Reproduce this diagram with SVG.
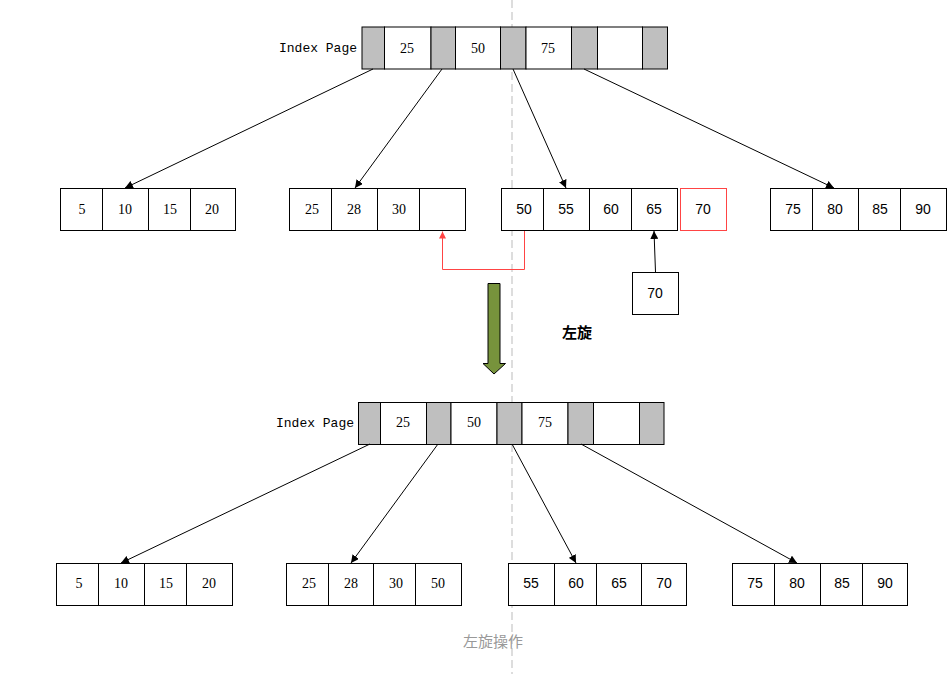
<svg xmlns="http://www.w3.org/2000/svg" width="950" height="674" viewBox="0 0 950 674">
<defs>
<style>
.c{fill:#fff;stroke:#000;stroke-width:1}
.g{fill:#bfbfbf;stroke:#000;stroke-width:1}
.s{font-family:"Liberation Serif","Noto Sans CJK SC",serif;font-size:14px;text-anchor:middle;fill:#000}
.a{font-family:"Liberation Sans",Arial,sans-serif;font-size:14px;text-anchor:middle;fill:#000}
.lbl{font-family:"Liberation Mono",monospace;font-size:13px;fill:#000;text-anchor:end}
.e{stroke:#000;stroke-width:1;fill:none;marker-end:url(#ah)}
</style>
<marker id="ah" viewBox="0 0 10 10" refX="10" refY="5" markerWidth="8" markerHeight="8" markerUnits="userSpaceOnUse" orient="auto"><path d="M0,0 L10,5 L0,10 z" fill="#000"/></marker>
<marker id="ahr" viewBox="0 0 10 10" refX="10" refY="5" markerWidth="7" markerHeight="7" markerUnits="userSpaceOnUse" orient="auto"><path d="M0,0 L10,5 L0,10 z" fill="#f44"/></marker>
</defs>
<rect width="950" height="674" fill="#fff"/>
<line x1="512" y1="0" x2="512" y2="674" stroke="#bbb" stroke-width="1" stroke-dasharray="8,4"/>

<g id="index-top">
<text class="lbl" x="357" y="52">Index Page</text>
<rect class="g" x="362" y="27" width="22.5" height="42"/>
<rect class="c" x="384.5" y="27" width="46.5" height="42"/>
<rect class="g" x="431" y="27" width="24.5" height="42"/>
<rect class="c" x="455.5" y="27" width="45" height="42"/>
<rect class="g" x="500.5" y="27" width="25.5" height="42"/>
<rect class="c" x="526" y="27" width="45.5" height="42"/>
<rect class="g" x="571.5" y="27" width="26" height="42"/>
<rect class="c" x="597.5" y="27" width="45" height="42"/>
<rect class="g" x="642.5" y="27" width="25" height="42"/>
<text class="s" x="407" y="53">25</text>
<text class="s" x="478" y="53">50</text>
<text class="s" x="548" y="53">75</text>
</g>

<g id="leaf-top-1">
<rect class="c" x="60.5" y="188.5" width="42" height="42"/>
<rect class="c" x="102.5" y="188.5" width="46" height="42"/>
<rect class="c" x="148.5" y="188.5" width="42" height="42"/>
<rect class="c" x="190.5" y="188.5" width="45" height="42"/>
<text class="s" x="82" y="214">5</text>
<text class="s" x="125" y="214">10</text>
<text class="s" x="170" y="214">15</text>
<text class="s" x="212" y="214">20</text>
</g>
<g id="leaf-top-2">
<rect class="c" x="289.5" y="188.5" width="42" height="42"/>
<rect class="c" x="331.5" y="188.5" width="46" height="42"/>
<rect class="c" x="377.5" y="188.5" width="42" height="42"/>
<rect class="c" x="419.5" y="188.5" width="46" height="42"/>
<text class="s" x="312" y="214">25</text>
<text class="s" x="354" y="214">28</text>
<text class="s" x="399" y="214">30</text>
</g>
<g id="leaf-top-3">
<rect class="c" x="501.5" y="188.5" width="42" height="42"/>
<rect class="c" x="543.5" y="188.5" width="46" height="42"/>
<rect class="c" x="589.5" y="188.5" width="42" height="42"/>
<rect class="c" x="631.5" y="188.5" width="46" height="42"/>
<text class="a" x="524" y="214">50</text>
<text class="a" x="566" y="214">55</text>
<text class="a" x="611" y="214">60</text>
<text class="a" x="654" y="214">65</text>
</g>
<g id="overflow-70">
<rect x="680.5" y="188.5" width="46" height="42" fill="#fff" stroke="#f44" stroke-width="1"/>
<text class="a" x="703" y="214">70</text>
</g>
<g id="leaf-top-4">
<rect class="c" x="770.5" y="188.5" width="42" height="42"/>
<rect class="c" x="812.5" y="188.5" width="46" height="42"/>
<rect class="c" x="858.5" y="188.5" width="42" height="42"/>
<rect class="c" x="900.5" y="188.5" width="46" height="42"/>
<text class="a" x="793" y="214">75</text>
<text class="a" x="835" y="214">80</text>
<text class="a" x="880" y="214">85</text>
<text class="a" x="923" y="214">90</text>
</g>
<g id="insert-70">
<rect class="c" x="632.5" y="272.5" width="46" height="42"/>
<text class="a" x="655" y="298">70</text>
</g>

<g id="rotate-arrow">
<path d="M488,283.5 H500 V363.5 H505.5 L494,374 L483,363.5 H488 Z" fill="#77933c" stroke="#000" stroke-width="1"/>
</g>
<g id="rotate-label">
<text x="577" y="338" font-family="'Noto Sans CJK SC',sans-serif" font-size="15" font-weight="bold" text-anchor="middle" fill="#000">左旋</text>
</g>

<g id="index-bottom">
<text class="lbl" x="354" y="427">Index Page</text>
<rect class="g" x="358.5" y="402.5" width="22" height="42"/>
<rect class="c" x="380.5" y="402.5" width="46" height="42"/>
<rect class="g" x="426.5" y="402.5" width="24.5" height="42"/>
<rect class="c" x="451" y="402.5" width="46" height="42"/>
<rect class="g" x="497" y="402.5" width="25" height="42"/>
<rect class="c" x="522" y="402.5" width="46" height="42"/>
<rect class="g" x="568" y="402.5" width="25.5" height="42"/>
<rect class="c" x="593.5" y="402.5" width="46" height="42"/>
<rect class="g" x="639.5" y="402.5" width="24.5" height="42"/>
<text class="s" x="403" y="427">25</text>
<text class="s" x="474" y="427">50</text>
<text class="s" x="545" y="427">75</text>
</g>

<g id="leaf-bottom-1">
<rect class="c" x="56.5" y="563.5" width="42" height="42"/>
<rect class="c" x="98.5" y="563.5" width="46" height="42"/>
<rect class="c" x="144.5" y="563.5" width="42" height="42"/>
<rect class="c" x="186.5" y="563.5" width="46" height="42"/>
<text class="s" x="79" y="588">5</text>
<text class="s" x="121" y="588">10</text>
<text class="s" x="166" y="588">15</text>
<text class="s" x="209" y="588">20</text>
</g>
<g id="leaf-bottom-2">
<rect class="c" x="286.5" y="563.5" width="42" height="42"/>
<rect class="c" x="328.5" y="563.5" width="45" height="42"/>
<rect class="c" x="373.5" y="563.5" width="42" height="42"/>
<rect class="c" x="415.5" y="563.5" width="46" height="42"/>
<text class="s" x="309" y="588">25</text>
<text class="s" x="351" y="588">28</text>
<text class="s" x="396" y="588">30</text>
<text class="s" x="438" y="588">50</text>
</g>
<g id="leaf-bottom-3">
<rect class="c" x="508.5" y="563.5" width="46" height="42"/>
<rect class="c" x="554.5" y="563.5" width="42" height="42"/>
<rect class="c" x="596.5" y="563.5" width="45" height="42"/>
<rect class="c" x="641.5" y="563.5" width="45" height="42"/>
<text class="a" x="531" y="588">55</text>
<text class="a" x="576" y="588">60</text>
<text class="a" x="619" y="588">65</text>
<text class="a" x="664" y="588">70</text>
</g>
<g id="leaf-bottom-4">
<rect class="c" x="732.5" y="563.5" width="42" height="42"/>
<rect class="c" x="774.5" y="563.5" width="46" height="42"/>
<rect class="c" x="820.5" y="563.5" width="42" height="42"/>
<rect class="c" x="862.5" y="563.5" width="45" height="42"/>
<text class="a" x="755" y="588">75</text>
<text class="a" x="797" y="588">80</text>
<text class="a" x="842" y="588">85</text>
<text class="a" x="885" y="588">90</text>
</g>

<g id="caption">
<text x="493" y="647" font-family="'Noto Sans CJK SC',sans-serif" font-size="15" text-anchor="middle" fill="#999">左旋操作</text>
</g>

<g id="connectors">
<line class="e" x1="373" y1="69" x2="125" y2="188"/>
<line class="e" x1="442" y1="69" x2="355" y2="188"/>
<line class="e" x1="513" y1="69" x2="566" y2="188"/>
<line class="e" x1="584" y1="69" x2="834" y2="188"/>
<line class="e" x1="655.5" y1="272" x2="654" y2="231"/>
<path d="M524.5,231 V269.5 H442.5 V231.5" fill="none" stroke="#f44" stroke-width="1" marker-end="url(#ahr)"/>
<line class="e" x1="370" y1="444" x2="121" y2="563"/>
<line class="e" x1="438" y1="444" x2="351" y2="563"/>
<line class="e" x1="512" y1="444" x2="576" y2="563"/>
<line class="e" x1="581" y1="444" x2="797" y2="563"/>
</g>
</svg>
